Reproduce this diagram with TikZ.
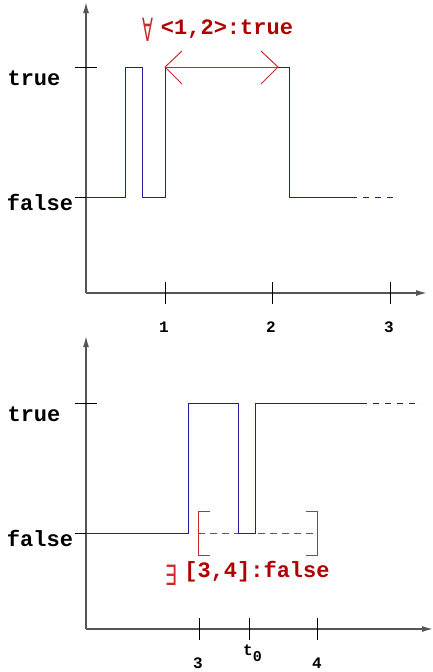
\documentclass[tikz,border=0pt]{standalone}
\usepackage{fontspec}
\setmainfont{Liberation Mono}
\newfontfamily\symfont{DejaVu Sans}
\usetikzlibrary{arrows.meta}
\definecolor{sig}{HTML}{1E1EA0}
\definecolor{redline}{HTML}{CC2A2A}
\definecolor{redtxt}{HTML}{B00000}
\definecolor{axisgray}{HTML}{555555}
\tikzset{
  axis/.style={draw=axisgray, line width=1.4pt, -{Latex[length=11pt,width=6pt]}},
  tickmark/.style={draw=black, line width=0.8pt},
  signal/.style={draw=sig, line width=1pt},
  sigdash/.style={draw=sig, line width=1pt, dash pattern=on 6pt off 6pt, dash phase=6pt},
  redl/.style={draw=redline, line width=1pt},
  reddash/.style={draw=redline, line width=1pt, dash pattern=on 7pt off 5pt},
  lbl/.style={font=\bfseries\fontsize{22}{22}\selectfont, inner sep=0pt},
  ticklbl/.style={font=\bfseries\fontsize{16}{16}\selectfont, inner sep=0pt},
  redlbl/.style={font=\bfseries\fontsize{22}{22}\selectfont, text=redtxt, inner sep=0pt},
  quant/.style={font=\symfont\fontsize{20}{20}\selectfont, text=redline, inner sep=0pt}
}
\begin{document}
\begin{tikzpicture}[x=1pt,y=-1pt]
\useasboundingbox (0,0) rectangle (433,672);

% ---------- top panel ----------
\coordinate (o1) at (86,293);
\coordinate (ytop1) at (86,2);
\coordinate (xend1) at (427,293);
\draw[axis] (o1) -- (ytop1);
\draw[axis] (o1) -- (xend1);
\draw[tickmark] (75,67) -- (97,67);
\draw[tickmark] (75,197) -- (86,197);
\foreach \x in {165,272,390} \draw[tickmark] (\x,282) -- (\x,304);
\node[ticklbl] (a1) at (164,327) {1};
\node[ticklbl] (a2) at (271,327) {2};
\node[ticklbl] (a3) at (389,327) {3};
\node[lbl] (true1) at (34,78) {true};
\node[lbl] (false1) at (40,202) {false};

\draw[signal] (86,197) -- (125,197) -- (125,67) -- (142,67) -- (142,197)
  -- (165,197) -- (165,67) -- (289,67) -- (289,197) -- (357,197);
\draw[sigdash] (357,197) -- (397,197);

\coordinate (ra) at (165,67);
\coordinate (rb) at (278,67);
\draw[redl] (ra) -- (rb);
\draw[redl] (182,51) -- (ra) -- (182,84);
\draw[redl] (261,51) -- (rb) -- (261,84);
\node[quant, xscale=0.8, yscale=1.6] (forall) at (147.5,29.5) {∀};
\node[redlbl] (ft) at (227,29) {<1,2>:true};

% ---------- bottom panel ----------
\coordinate (o2) at (86,629);
\coordinate (ytop2) at (86,336);
\coordinate (xend2) at (433,629);
\draw[axis] (o2) -- (ytop2);
\draw[axis] (o2) -- (xend2);
\draw[tickmark] (75,403) -- (97,403);
\draw[tickmark] (75,533) -- (86,533);
\foreach \x in {199,249,317} \draw[tickmark] (\x,618) -- (\x,640);
\node[ticklbl] (b3) at (198,663) {3};
\node[ticklbl, anchor=base west] (bt) at (243,655) {t\raisebox{-6pt}{\fontsize{15}{15}\selectfont 0}};
\node[ticklbl] (b4) at (317,663) {4};
\node[lbl] (true2) at (34,414) {true};
\node[lbl] (false2) at (40,538) {false};

\draw[reddash] (198,533) -- (317,533);
\draw[redl] (210,511) -- (198,511) -- (198,555) -- (210,555);
\draw[redl] (306,511) -- (317,511) -- (317,555) -- (306,555);

\draw[signal] (86,533) -- (188,533) -- (188,403) -- (238,403) -- (238,533)
  -- (255,533) -- (255,403) -- (367,403);
\draw[sigdash] (367,403) -- (421,403);

\node[quant, xscale=0.95, yscale=1.4] (exists) at (171,575) {∃};
\node[redlbl] (ef) at (257,572) {[3,4]:false};
\end{tikzpicture}
\end{document}
